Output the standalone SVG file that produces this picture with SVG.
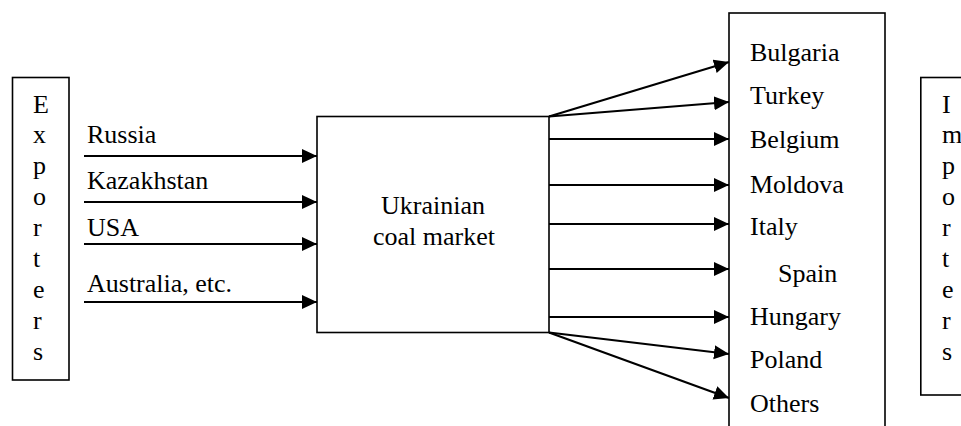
<svg xmlns="http://www.w3.org/2000/svg" width="961" height="426" viewBox="0 0 961 426">
<defs>
<marker id="ah" markerUnits="userSpaceOnUse" markerWidth="16" markerHeight="15" refX="15" refY="7" orient="auto">
<path d="M0,0 L15,7 L0,14 z" fill="#000"/>
</marker>
<style>
.box{fill:#fff;stroke:#000;stroke-width:1.6}
.t{font-family:'Liberation Serif','Times New Roman',serif;font-size:26px;fill:#000}
.c{text-anchor:middle}
.ar{stroke:#000;stroke-width:2.2;fill:none;marker-end:url(#ah)}
</style>
</defs>
<rect width="961" height="426" fill="#fff"/>
<g id="exporters">
<rect class="box" x="12.5" y="77.5" width="56.5" height="302.5"/>
<text class="t" x="33" y="113">E</text>
<text class="t" x="33" y="143">x</text>
<text class="t" x="33" y="174">p</text>
<text class="t" x="33" y="205">o</text>
<text class="t" x="33" y="236">r</text>
<text class="t" x="33" y="267">t</text>
<text class="t" x="33" y="298">e</text>
<text class="t" x="33" y="329">r</text>
<text class="t" x="33" y="360">s</text>
</g>
<g id="importers">
<rect class="box" x="920.8" y="77.5" width="60" height="317.5"/>
<text class="t" x="942" y="113">I</text>
<text class="t" x="942" y="143">m</text>
<text class="t" x="942" y="174">p</text>
<text class="t" x="942" y="205">o</text>
<text class="t" x="942" y="236">r</text>
<text class="t" x="942" y="267">t</text>
<text class="t" x="942" y="298">e</text>
<text class="t" x="942" y="329">r</text>
<text class="t" x="942" y="360">s</text>
</g>
<g id="market">
<rect class="box" x="317" y="116.5" width="232" height="216"/>
<text class="t c" x="433" y="214">Ukrainian</text>
<text class="t c" x="434" y="245">coal market</text>
</g>
<g id="countries">
<rect class="box" x="729" y="13" width="156" height="430"/>
<text class="t" x="750" y="61">Bulgaria</text>
<text class="t" x="750" y="104">Turkey</text>
<text class="t" x="750" y="148">Belgium</text>
<text class="t" x="750" y="193">Moldova</text>
<text class="t" x="750" y="235">Italy</text>
<text class="t" x="778" y="282">Spain</text>
<text class="t" x="750" y="325">Hungary</text>
<text class="t" x="750" y="368">Poland</text>
<text class="t" x="750" y="412">Others</text>
</g>
<g id="labels">
<text class="t" x="87" y="143">Russia</text>
<text class="t" x="87" y="189">Kazakhstan</text>
<text class="t" x="87" y="236">USA</text>
<text class="t" x="87" y="292">Australia, etc.</text>
</g>
<g id="connectors">
<line class="ar" x1="84" y1="156" x2="317" y2="156"/>
<line class="ar" x1="84" y1="202" x2="317" y2="202"/>
<line class="ar" x1="84" y1="244" x2="317" y2="244"/>
<line class="ar" x1="84" y1="302" x2="317" y2="302"/>
<line class="ar" x1="549" y1="116.5" x2="729" y2="62"/>
<line class="ar" x1="549" y1="116.5" x2="729" y2="102"/>
<line class="ar" x1="549" y1="139" x2="729" y2="139"/>
<line class="ar" x1="549" y1="185" x2="729" y2="185"/>
<line class="ar" x1="549" y1="224" x2="729" y2="224"/>
<line class="ar" x1="549" y1="269" x2="729" y2="269"/>
<line class="ar" x1="549" y1="317" x2="729" y2="317"/>
<line class="ar" x1="549" y1="332.5" x2="729" y2="354"/>
<line class="ar" x1="549" y1="332.5" x2="729" y2="398"/>
</g>
</svg>
